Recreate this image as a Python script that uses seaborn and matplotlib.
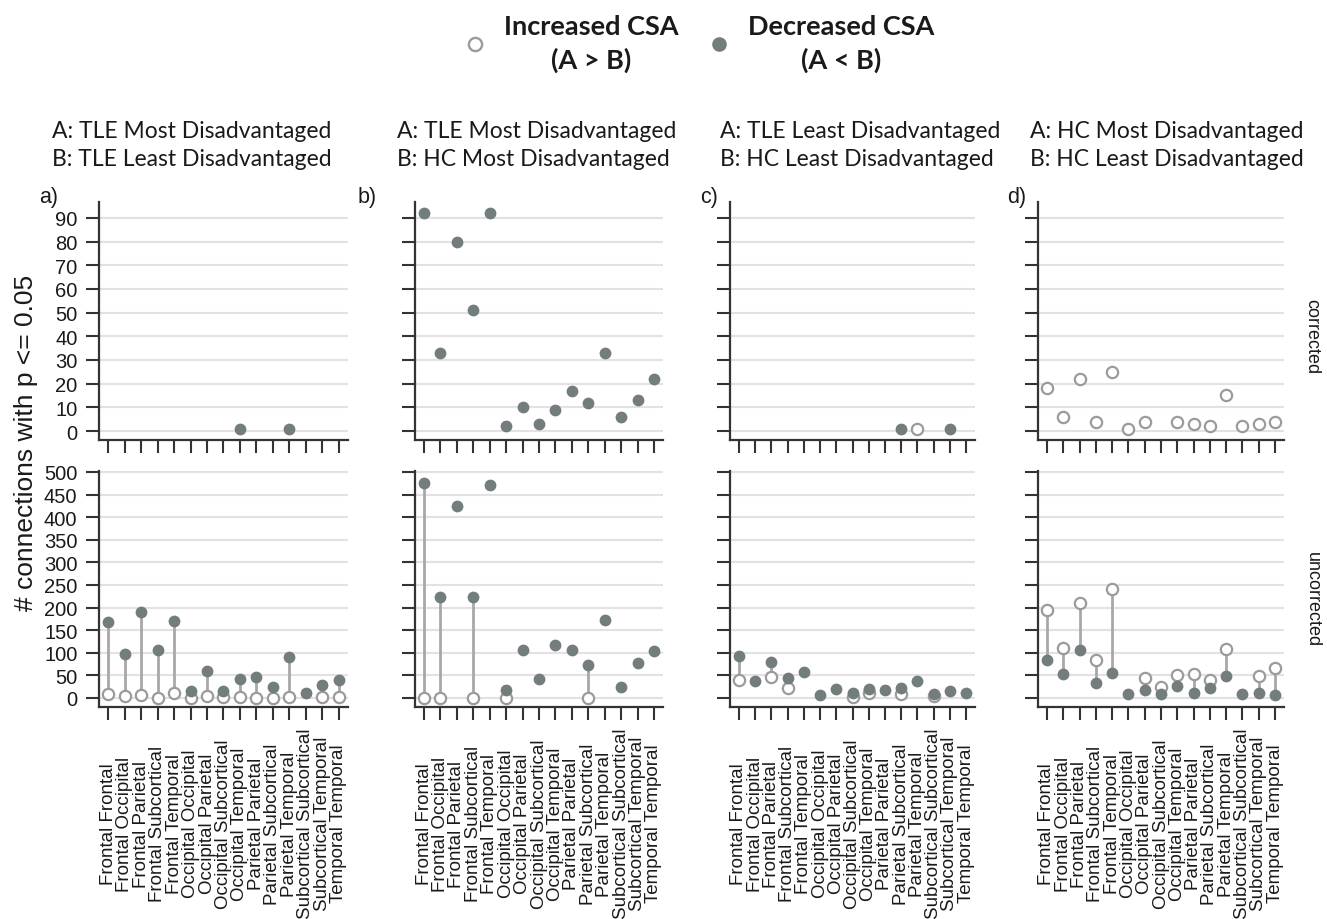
import numpy as np
import pandas as pd
import matplotlib
matplotlib.use("Agg")
import matplotlib.pyplot as plt
import matplotlib.transforms as mtransforms
from matplotlib.lines import Line2D
import seaborn as sns

nan = np.nan

categories = [
    "Frontal Frontal", "Frontal Occipital", "Frontal Parietal", "Frontal Subcortical",
    "Frontal Temporal", "Occipital Occipital", "Occipital Parietal", "Occipital Subcortical",
    "Occipital Temporal", "Parietal Parietal", "Parietal Subcortical", "Parietal Temporal",
    "Subcortical Subcortical", "Subcortical Temporal", "Temporal Temporal",
]

panels = ["a", "b", "c", "d"]
group_a = ["A: TLE Most Disadvantaged", "A: TLE Most Disadvantaged",
           "A: TLE Least Disadvantaged", "A: HC Most Disadvantaged"]
group_b = ["B: TLE Least Disadvantaged", "B: HC Most Disadvantaged",
           "B: HC Least Disadvantaged", "B: HC Least Disadvantaged"]
levels = ["corrected", "uncorrected"]
directions = ["Increased", "Decreased"]
legend_labels = ["Increased CSA\n(A > B)", "Decreased CSA\n(A < B)"]
ylabel = "# connections with p <= 0.05"

corrected_ticks = [0, 10, 20, 30, 40, 50, 60, 70, 80, 90]
uncorrected_ticks = [0, 50, 100, 150, 200, 250, 300, 350, 400, 450, 500]

# a) TLE most vs TLE least disadvantaged
a_corr_inc = [nan] * 15
a_corr_dec = [nan, nan, nan, nan, nan, nan, nan, nan, 1, nan, nan, 1, nan, nan, nan]
a_unc_inc = [8, 4, 7, 0, 10, 0, 4, 3, 3, 0, 0, 3, nan, 2, 2]
a_unc_dec = [168, 98, 190, 107, 171, 15, 59, 15, 43, 46, 24, 91, 12, 29, 40]

# b) TLE most vs HC most disadvantaged
b_corr_inc = [nan] * 15
b_corr_dec = [92, 33, 80, 51, 92, 2, 10, 3, 9, 17, 12, 33, 6, 13, 22]
b_unc_inc = [0, 0, nan, 0, nan, 0, nan, nan, nan, nan, 0, nan, nan, nan, nan]
b_unc_dec = [476, 223, 424, 223, 471, 18, 105, 41, 118, 107, 74, 173, 25, 78, 103]

# c) TLE least vs HC least disadvantaged
c_corr_inc = [nan, nan, nan, nan, nan, nan, nan, nan, nan, nan, nan, 1, nan, nan, nan]
c_corr_dec = [nan, nan, nan, nan, nan, nan, nan, nan, nan, nan, 1, nan, nan, 1, nan]
c_unc_inc = [40, nan, 47, 21, nan, nan, nan, 3, 10, nan, 9, nan, 4, nan, nan]
c_unc_dec = [92, 38, 79, 45, 57, 6, 20, 11, 20, 17, 21, 37, 8, 15, 11]

# d) HC most vs HC least disadvantaged
d_corr_inc = [18, 6, 22, 4, 25, 1, 4, nan, 4, 3, 2, 15, 2, 3, 4]
d_corr_dec = [nan] * 15
d_unc_inc = [195, 110, 210, 83, 240, nan, 45, 24, 51, 52, 39, 109, nan, 49, 66]
d_unc_dec = [83, 53, 106, 32, 56, 9, 18, 8, 27, 12, 23, 49, 8, 12, 6]

series = {
    ("a", "corrected", "Increased"): a_corr_inc, ("a", "corrected", "Decreased"): a_corr_dec,
    ("a", "uncorrected", "Increased"): a_unc_inc, ("a", "uncorrected", "Decreased"): a_unc_dec,
    ("b", "corrected", "Increased"): b_corr_inc, ("b", "corrected", "Decreased"): b_corr_dec,
    ("b", "uncorrected", "Increased"): b_unc_inc, ("b", "uncorrected", "Decreased"): b_unc_dec,
    ("c", "corrected", "Increased"): c_corr_inc, ("c", "corrected", "Decreased"): c_corr_dec,
    ("c", "uncorrected", "Increased"): c_unc_inc, ("c", "uncorrected", "Decreased"): c_unc_dec,
    ("d", "corrected", "Increased"): d_corr_inc, ("d", "corrected", "Decreased"): d_corr_dec,
    ("d", "uncorrected", "Increased"): d_unc_inc, ("d", "uncorrected", "Decreased"): d_unc_dec,
}

rows = []
for (panel, level, direction), vals in series.items():
    for i, (cat, v) in enumerate(zip(categories, vals)):
        rows.append(dict(panel=panel, level=level, direction=direction,
                         category=cat, pos=i, value=v))
df = pd.DataFrame(rows)

# ---- style ----
sns.set_theme(style="white")
plt.rcParams["font.family"] = ["Liberation Sans", "DejaVu Sans"]

fill_c = "#737d7d"
open_c = "#9b9b9b"
line_c = "#a8a8a8"
spine_c = "#333333"
grid_c = "#e2e2e2"
text_c = "#1a1a1a"

W, H = 1327, 920
fig = plt.figure(figsize=(W / 100, H / 100), dpi=100)

lefts = [99, 415, 730, 1038]
widths = [249, 248, 245, 246]
row_px = {"corrected": (203, 441), "uncorrected": (472, 708)}
ylims = {"corrected": (-3.8, 96.7), "uncorrected": (-20, 502)}
yticks = {"corrected": corrected_ticks, "uncorrected": uncorrected_ticks}

for pi, panel in enumerate(panels):
    for level in levels:
        top, bot = row_px[level]
        ax = fig.add_axes([lefts[pi] / W, 1 - bot / H, widths[pi] / W, (bot - top) / H])
        sub = df[(df.panel == panel) & (df.level == level)]
        wide = sub.pivot(index="pos", columns="direction", values="value")
        both = wide.dropna()
        if len(both):
            ax.vlines(both.index, both.min(axis=1), both.max(axis=1),
                      color=line_c, lw=2.0, zorder=2)
        inc = sub[sub.direction == "Increased"].dropna(subset=["value"])
        dec = sub[sub.direction == "Decreased"].dropna(subset=["value"])
        if len(inc):
            sns.scatterplot(data=inc, x="pos", y="value", ax=ax, s=66, color="white",
                            edgecolor=open_c, linewidth=1.6, zorder=3, legend=False)
        if len(dec):
            sns.scatterplot(data=dec, x="pos", y="value", ax=ax, s=72, color=fill_c,
                            edgecolor=fill_c, linewidth=0, zorder=4, legend=False)

        ax.set_xlim(-0.55, 14.55)
        ax.set_ylim(*ylims[level])
        ax.set_xticks(range(len(categories)))
        ax.set_xticklabels([])
        ax.set_yticks(yticks[level])
        if panel == "a":
            ax.set_yticklabels([str(t) for t in yticks[level]], fontsize=14.5, color=text_c)
        else:
            ax.set_yticklabels([])
        ax.set_xlabel("")
        ax.set_ylabel("")
        ax.grid(axis="y", color=grid_c, lw=1.5)
        ax.grid(axis="x", visible=False)
        ax.set_axisbelow(True)
        for s in ["top", "right"]:
            ax.spines[s].set_visible(False)
        for s in ["left", "bottom"]:
            ax.spines[s].set_color(spine_c)
            ax.spines[s].set_linewidth(1.6)
        ax.tick_params(axis="both", which="major", length=9.5, width=1.5, color=spine_c,
                       direction="out", left=True, bottom=True, pad=6)

        if level == "uncorrected":
            trans = mtransforms.blended_transform_factory(ax.transData, fig.transFigure)
            for i, cat in enumerate(categories):
                ax.text(i, 1 - 824 / H, cat, rotation=90, ha="center", va="center",
                        fontsize=13.5, color=text_c, transform=trans)

# panel letters and comparison headers
letter_x = [39, 358, 700, 1007]
head_x = [52, 397, 720, 1030]
for pi, panel in enumerate(panels):
    fig.text(letter_x[pi] / W, 1 - 197 / H, panel + ")", fontsize=15.5, color=text_c,
             ha="left", va="center")
    fig.text(head_x[pi] / W, 1 - 131 / H, group_a[pi], fontsize=16.5, color=text_c,
             ha="left", va="center", family=["Lato", "DejaVu Sans"])
    fig.text(head_x[pi] / W, 1 - 160 / H, group_b[pi], fontsize=16.5, color=text_c,
             ha="left", va="center", family=["Lato", "DejaVu Sans"])

fig.text(26 / W, 1 - 443 / H, ylabel, rotation=90, ha="center", va="center",
         fontsize=19, color=text_c)
fig.text(1312 / W, 1 - 337 / H, levels[0], rotation=270, ha="center", va="center",
         fontsize=13, color=text_c)
fig.text(1312 / W, 1 - 600 / H, levels[1], rotation=270, ha="center", va="center",
         fontsize=13, color=text_c)

handles = [
    Line2D([], [], ls="none", marker="o", ms=9.5, mfc="white", mec=open_c, mew=1.7),
    Line2D([], [], ls="none", marker="o", ms=9.5, mfc=fill_c, mec=fill_c),
]
leg = fig.legend(handles, legend_labels, loc="center", bbox_to_anchor=(698 / W, 1 - 44 / H),
                 ncol=2, frameon=False,
                 prop=dict(family="Lato", weight="bold", size=19.5),
                 handlelength=1.0, handletextpad=0.56, columnspacing=1.0)
for t in leg.get_texts():
    t.set_multialignment("center")
    t.set_linespacing(1.45)
    t.set_color(text_c)

fig.savefig("out.png", dpi=100)
